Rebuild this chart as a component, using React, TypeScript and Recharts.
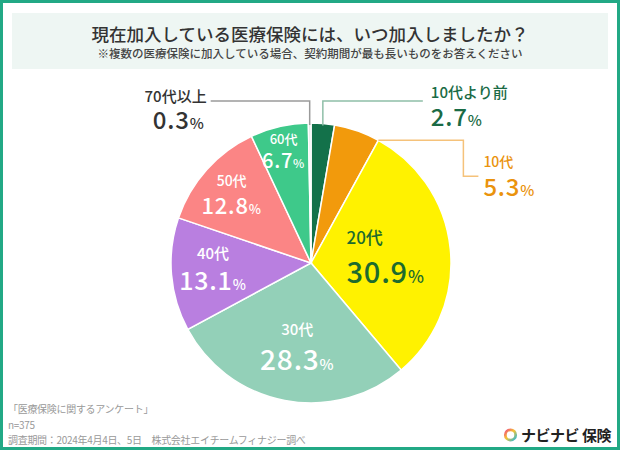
import { PieChart, Pie, Cell } from "recharts";

const categories = ["10代より前", "10代", "20代", "30代", "40代", "50代", "60代", "70代以上"];
const shares = [2.7, 5.3, 30.9, 28.3, 13.1, 12.8, 6.7, 0.3];
const colors = ["#13714a", "#f29a0c", "#fff200", "#93d0b8", "#b97fe0", "#fb8585", "#3ec98a", "#e6e6e6"];

const data = categories.map((name, i) => ({ name, value: shares[i] }));

const FONT = '"Noto Sans CJK JP", "Noto Sans", sans-serif';
const RADIAN = Math.PI / 180;

type InsideStyle = {
  r: number;
  color: string;
  nameSize: number;
  bigSize: number;
  pctSize: number;
  nameDy: number;
  valueDy: number;
  anchor: "middle" | "start";
  dx: number;
};

// inside labels: radial distance (fraction of radius), colours and sizes
const inside: Record<string, InsideStyle> = {
  "20代": { r: 0.47, color: "#1c6b2e", nameSize: 17, bigSize: 29, pctSize: 17, nameDy: -13, valueDy: 26, anchor: "start", dx: -30 },
  "30代": { r: 0.6, color: "#ffffff", nameSize: 15, bigSize: 28, pctSize: 15, nameDy: -11, valueDy: 24, anchor: "middle", dx: 2 },
  "40代": { r: 0.71, color: "#ffffff", nameSize: 15, bigSize: 25, pctSize: 14, nameDy: -12, valueDy: 19, anchor: "middle", dx: 1 },
  "50代": { r: 0.77, color: "#ffffff", nameSize: 14, bigSize: 22, pctSize: 13, nameDy: -5, valueDy: 23, anchor: "middle", dx: 1 },
  "60代": { r: 0.8, color: "#ffffff", nameSize: 13, bigSize: 20, pctSize: 12, nameDy: -10, valueDy: 14, anchor: "middle", dx: -2 },
};

function Value({ v, pct }: { v: number; pct: number }) {
  return (
    <>
      {v.toFixed(1)}
      <tspan fontSize={pct}>%</tspan>
    </>
  );
}

function PieLabel(props: any) {
  const { cx, cy, midAngle, endAngle, outerRadius, name, value } = props;
  const cfg = inside[name];
  if (cfg) {
    const r = outerRadius * cfg.r;
    const x = cx + r * Math.cos(-midAngle * RADIAN) + cfg.dx;
    const y = cy + r * Math.sin(-midAngle * RADIAN);
    return (
      <g fontFamily={FONT} fill={cfg.color} textAnchor={cfg.anchor} fontWeight={500}>
        <text x={x} y={y + cfg.nameDy} fontSize={cfg.nameSize}>
          {name}
        </text>
        <text x={x} y={y + cfg.valueDy} fontSize={cfg.bigSize} letterSpacing={0.8}>
          <Value v={value} pct={cfg.pctSize} />
        </text>
      </g>
    );
  }
  const ang = name === "10代" ? endAngle : midAngle;
  const ax = cx + outerRadius * Math.cos(-ang * RADIAN);
  const ay = cy + outerRadius * Math.sin(-ang * RADIAN);
  if (name === "70代以上") {
    const ly = cy - outerRadius - 22;
    const lx = ax - 99;
    return (
      <g fontFamily={FONT} fontWeight={500} fill="#333">
        <polyline points={`${ax},${ay + 2} ${ax},${ly} ${lx},${ly}`} fill="none" stroke="#9a9a9a" strokeWidth={1.5} />
        <text x={lx - 4} y={ly + 1} textAnchor="end" fontSize={15}>
          {name}
        </text>
        <text x={lx - 6} y={ly + 28} textAnchor="end" fontSize={24} letterSpacing={0.8}>
          <Value v={value} pct={15} />
        </text>
      </g>
    );
  }
  if (name === "10代より前") {
    const ly = cy - outerRadius - 22;
    const lx = ax + 100;
    return (
      <g fontFamily={FONT} fontWeight={500} fill="#1a6b45">
        <polyline points={`${ax},${ay + 2} ${ax},${ly} ${lx},${ly}`} fill="none" stroke="#8fbfa8" strokeWidth={1.5} />
        <text x={lx + 8} y={ly - 3} fontSize={15}>
          {name}
        </text>
        <text x={lx + 8} y={ly + 25} fontSize={24} letterSpacing={0.8}>
          <Value v={value} pct={15} />
        </text>
      </g>
    );
  }
  // 10代
  const bx = ax + 85;
  const by = ay + 36;
  return (
    <g fontFamily={FONT} fontWeight={500} fill="#ea930d">
      <polyline points={`${ax},${ay} ${bx},${ay} ${bx},${by} ${bx + 15},${by}`} fill="none" stroke="#f5c27a" strokeWidth={1.5} />
      <text x={bx + 20} y={by - 9} fontSize={14}>
        {name}
      </text>
      <text x={bx + 20} y={by + 20} fontSize={24} letterSpacing={0.8}>
        <Value v={value} pct={15} />
      </text>
    </g>
  );
}

export default function App() {
  return (
    <div
      style={{
        position: "relative",
        width: 620,
        height: 450,
        boxSizing: "border-box",
        border: "3px solid #22a985",
        background: "#fff",
        fontFamily: FONT,
        overflow: "hidden",
      }}
    >
      <style>{`body{margin:0}`}</style>
      <div
        style={{
          position: "absolute",
          left: 9,
          top: 10,
          width: 596,
          height: 56,
          background: "#eef6f3",
          textAlign: "center",
        }}
      >
        <div style={{ fontSize: 17.5, fontWeight: 500, color: "#333", marginTop: 10, lineHeight: "22px" }}>
          現在加入している医療保険には、いつ加入しましたか？
        </div>
        <div style={{ fontSize: 11.5, fontWeight: 500, color: "#444", lineHeight: "16px" }}>
          ※複数の医療保険に加入している場合、契約期間が最も長いものをお答えください
        </div>
      </div>

      <div style={{ position: "absolute", left: -3, top: -3 }}>
        <PieChart width={620} height={450} margin={{ top: 0, right: 0, bottom: 0, left: 0 }}>
          <Pie
            data={data}
            dataKey="value"
            nameKey="name"
            cx={311}
            cy={263}
            outerRadius={140}
            startAngle={90}
            endAngle={-270}
            stroke="#fff"
            strokeWidth={1.5}
            label={PieLabel}
            labelLine={false}
            isAnimationActive={false}
          >
            {data.map((d, i) => (
              <Cell key={d.name} fill={colors[i]} />
            ))}
          </Pie>
        </PieChart>
      </div>

      <div
        style={{
          position: "absolute",
          left: 5,
          top: 398,
          fontSize: 10,
          letterSpacing: -0.3,
          color: "#999",
          lineHeight: "15.5px",
        }}
      >
        <div>「医療保険に関するアンケート」</div>
        <div>n=375</div>
        <div>調査期間：2024年4月4日、5日　株式会社エイチームフィナジー調べ</div>
      </div>

      <div
        style={{
          position: "absolute",
          right: 6,
          top: 421,
          display: "flex",
          alignItems: "center",
          gap: 3,
        }}
      >
        <svg width={15} height={15} viewBox="0 0 16 16">
          <defs>
            <linearGradient id="logoRing" x1="0" y1="0" x2="1" y2="1">
              <stop offset="0%" stopColor="#f04e7c" />
              <stop offset="45%" stopColor="#f7c531" />
              <stop offset="100%" stopColor="#2ab7d8" />
            </linearGradient>
          </defs>
          <circle cx={8} cy={8.5} r={5.5} fill="none" stroke="url(#logoRing)" strokeWidth={3} />
        </svg>
        <span style={{ fontSize: 15, fontWeight: 700, color: "#222", letterSpacing: -0.5 }}>ナビナビ 保険</span>
      </div>
    </div>
  );
}
